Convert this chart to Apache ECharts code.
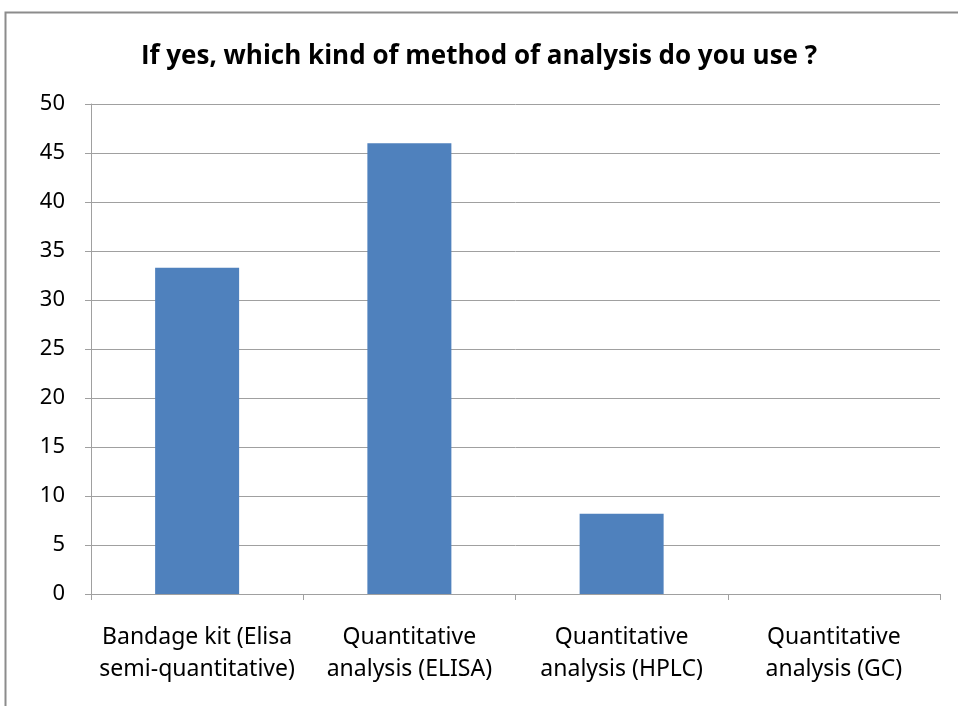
<!DOCTYPE html>
<html>
<head>
<meta charset="utf-8">
<script src="https://cdn.jsdelivr.net/npm/echarts@6/dist/echarts.min.js"></script>
<style>
  html, body { margin: 0; padding: 0; background: #fff; }
  #show { width: 958px; height: 706px; }
</style>
</head>
<body>
<div id="show"></div>
<script>
// 数据
var titleText = 'If yes, which kind of method of analysis do you use ?';
var categories = [
  'Bandage kit (Elisa\nsemi-quantitative)',
  'Quantitative\nanalysis (ELISA)',
  'Quantitative\nanalysis (HPLC)',
  'Quantitative\nanalysis (GC)'
];
var values = [33.3, 46, 8.2, 0];
var yMin = 0, yMax = 50, yStep = 5;

var myChart = echarts.init(document.getElementById('show'));
var font = '"Noto Sans", sans-serif';

myChart.setOption({
  animation: false,
  title: {
    text: titleText,
    left: 'center',
    top: 39,
    textStyle: { color: '#000', fontSize: 26, fontWeight: 'bold', fontFamily: '"Open Sans", sans-serif' }
  },
  graphic: [{
    type: 'rect',
    shape: { x: 5.5, y: 12.5, width: 1000, height: 1000 },
    style: { fill: 'none', stroke: '#8c8c8c', lineWidth: 2 }
  }],
  grid: { left: 91, right: 18, top: 104, bottom: 112 },
  xAxis: {
    type: 'category',
    data: categories,
    axisLine: { lineStyle: { color: '#a0a0a0', width: 1 } },
    axisTick: { show: true, length: 6, alignWithLabel: false, lineStyle: { color: '#a0a0a0' } },
    axisLabel: { color: '#000', fontSize: 23, fontFamily: font, lineHeight: 32, margin: 27, interval: 0 }
  },
  yAxis: {
    type: 'value',
    min: yMin,
    max: yMax,
    interval: yStep,
    axisLine: { show: true, lineStyle: { color: '#a0a0a0', width: 1 } },
    axisTick: { show: true, length: 6, lineStyle: { color: '#a0a0a0' } },
    splitLine: { lineStyle: { color: '#a0a0a0', width: 1 } },
    axisLabel: { color: '#000', fontSize: 22, fontFamily: font, margin: 26 }
  },
  series: [{
    name: 'analysis',
    type: 'bar',
    data: values,
    barWidth: 84,
    itemStyle: { color: '#4f81bd' }
  }]
});
</script>
</body>
</html>
